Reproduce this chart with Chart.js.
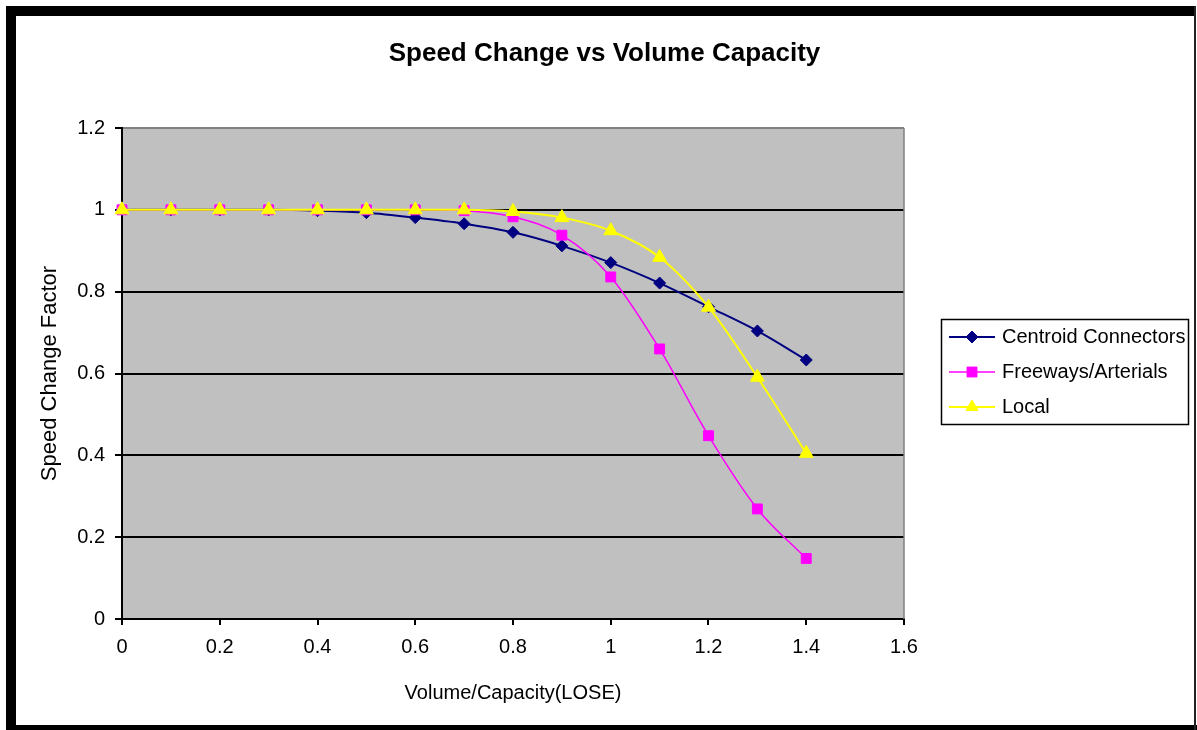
<!DOCTYPE html>
<html>
<head>
<meta charset="utf-8">
<script src="https://cdn.jsdelivr.net/npm/chart.js@4/dist/chart.umd.min.js"></script>
<style>
html,body{margin:0;padding:0;background:#fff;overflow:hidden}
canvas{display:block}
</style>
</head>
<body>
<canvas id="c" width="1197" height="730"></canvas>
<script>
// ---------- data ----------
const chartTitle = 'Speed Change vs Volume Capacity';
const xAxisTitle = 'Volume/Capacity(LOSE)';
const yAxisTitle = 'Speed Change Factor';
const seriesNames = ['Centroid Connectors', 'Freeways/Arterials', 'Local'];
const volumeCapacity = [0, 0.1, 0.2, 0.3, 0.4, 0.5, 0.6, 0.7, 0.8, 0.9, 1.0, 1.1, 1.2, 1.3, 1.4];
const centroidConnectors = [1, 1, 1, 1, 0.998, 0.993, 0.981, 0.966, 0.945, 0.912, 0.871, 0.821, 0.763, 0.704, 0.633];
const freewaysArterials = [1, 1, 1, 1, 1, 1, 1, 0.998, 0.983, 0.938, 0.836, 0.66, 0.448, 0.269, 0.148];
const localRoads = [1, 1, 1, 1, 1, 1, 1, 1, 0.996, 0.981, 0.949, 0.884, 0.762, 0.591, 0.405];
const xTickLabels = ['0', '0.2', '0.4', '0.6', '0.8', '1', '1.2', '1.4', '1.6'];
const yTickLabels = ['0', '0.2', '0.4', '0.6', '0.8', '1', '1.2'];

// ---------- styles ----------
const FONT = '"Liberation Sans", Arial, sans-serif';
const seriesColors = ['#000080', '#FF00FF', '#FFFF00'];
const seriesPointStyles = ['rectRot', 'rect', 'triangle'];
const seriesPointRadius = [6, 7, 8];
const seriesLineWidth = [2, 1.5, 2];

function toPoints(ys) { return volumeCapacity.map((x, i) => ({ x: x, y: ys[i] })); }
const seriesData = [centroidConnectors, freewaysArterials, localRoads];

function drawMarker(ctx, style, cx, cy, r) {
  ctx.beginPath();
  if (style === 'rectRot') {
    ctx.moveTo(cx, cy - r); ctx.lineTo(cx + r, cy); ctx.lineTo(cx, cy + r); ctx.lineTo(cx - r, cy); ctx.closePath();
  } else if (style === 'rect') {
    const s = r * Math.SQRT1_2; ctx.rect(cx - s, cy - s, 2 * s, 2 * s);
  } else {
    ctx.moveTo(cx, cy - r); ctx.lineTo(cx + r * 0.866, cy + r / 2); ctx.lineTo(cx - r * 0.866, cy + r / 2); ctx.closePath();
  }
  ctx.fill(); ctx.stroke();
}

function makeLegendImage(i) {
  const cv = document.createElement('canvas');
  cv.width = 46; cv.height = 20;
  const c = cv.getContext('2d');
  c.strokeStyle = seriesColors[i]; c.fillStyle = seriesColors[i];
  c.lineWidth = seriesLineWidth[i];
  c.beginPath(); c.moveTo(0, 10); c.lineTo(46, 10); c.stroke();
  c.lineWidth = 1;
  drawMarker(c, seriesPointStyles[i], 23, 10, seriesPointStyles[i] === 'triangle' ? 7 : seriesPointRadius[i]);
  return cv;
}
const legendImages = [0, 1, 2].map(makeLegendImage);

const excelPlugin = {
  id: 'excelLook',
  afterLayout(chart) {
    const lg = chart.legend;
    if (lg) { lg.left = 937; lg.right = 1189; lg.top = 272; lg.bottom = 472; lg.width = 252; lg.height = 200; }
    const tb = chart.titleBlock;
    if (tb) { tb.left = 16; tb.right = 1193; tb.width = 1177; }
  },
  beforeDraw(chart) {
    const ctx = chart.ctx;
    const a = chart.chartArea;
    ctx.save();
    ctx.fillStyle = '#ffffff';
    ctx.fillRect(0, 0, chart.width, chart.height);
    ctx.fillStyle = '#000000';
    ctx.fillRect(6, 6, 10, 724);
    ctx.fillRect(6, 6, 1189, 10);
    ctx.fillRect(6, 725, 1191, 5);
    ctx.fillStyle = '#222222';
    ctx.fillRect(1194, 6, 2, 724);
    ctx.fillStyle = '#C0C0C0';
    ctx.fillRect(a.left, a.top, a.right - a.left, a.bottom - a.top);
    ctx.restore();
  },
  beforeDatasetsDraw(chart) {
    const ctx = chart.ctx;
    const a = chart.chartArea;
    ctx.save();
    ctx.strokeStyle = '#808080';
    ctx.lineWidth = 1.5;
    ctx.beginPath();
    ctx.moveTo(a.right, a.top); ctx.lineTo(a.right, a.bottom);
    ctx.stroke();
    ctx.restore();
  },
  afterDraw(chart) {
    const ctx = chart.ctx;
    ctx.save();
    ctx.strokeStyle = '#000000';
    ctx.lineWidth = 1.5;
    ctx.strokeRect(941.5, 319.5, 247, 105);
    ctx.restore();
  }
};

new Chart(document.getElementById('c'), {
  type: 'line',
  data: {
    datasets: seriesNames.map((name, i) => ({
      label: name,
      data: toPoints(seriesData[i]),
      borderColor: seriesColors[i],
      backgroundColor: seriesColors[i],
      borderWidth: seriesLineWidth[i],
      pointStyle: seriesPointStyles[i],
      pointRadius: seriesPointRadius[i],
      pointHoverRadius: seriesPointRadius[i],
      pointBorderWidth: 1,
      pointBorderColor: seriesColors[i],
      pointBackgroundColor: seriesColors[i],
      cubicInterpolationMode: 'monotone',
      fill: false,
      clip: false,
      order: 2 - i
    }))
  },
  options: {
    responsive: false,
    animation: false,
    devicePixelRatio: 1,
    layout: { padding: { left: 16, top: 16, right: 293, bottom: 5 } },
    plugins: {
      tooltip: { enabled: false },
      title: {
        display: true,
        text: chartTitle,
        color: '#000',
        font: { family: FONT, size: 26, weight: 'bold', lineHeight: 1.2 },
        padding: { top: 22, bottom: 58.8 }
      },
      legend: {
        display: true,
        position: 'chartArea',
        align: 'center',
        labels: {
          color: '#000',
          font: { family: FONT, size: 20 },
          usePointStyle: true,
          pointStyleWidth: 40,
          padding: 15,
          generateLabels(chart) {
            const items = Chart.defaults.plugins.legend.labels.generateLabels(chart);
            items.sort((a, b) => a.datasetIndex - b.datasetIndex);
            items.forEach(it => { it.pointStyle = legendImages[it.datasetIndex]; it.fontColor = '#000'; });
            return items;
          }
        }
      }
    },
    scales: {
      x: {
        type: 'linear',
        min: 0, max: 1.6,
        afterFit(scale) { scale.height = 106; },
        ticks: {
          stepSize: 0.2,
          color: '#000',
          padding: 10,
          font: { family: FONT, size: 20 },
          callback(value) { return xTickLabels[Math.round(value / 0.2)]; }
        },
        grid: { drawOnChartArea: false, drawTicks: true, tickLength: 6, tickColor: '#000', lineWidth: 2 },
        border: { display: true, color: '#000', width: 2 },
        title: {
          display: true, text: xAxisTitle, color: '#000',
          font: { family: FONT, size: 20 },
          padding: { top: 0, bottom: 20 }
        }
      },
      y: {
        type: 'linear',
        min: 0, max: 1.2,
        afterFit(scale) { scale.width = 106; },
        ticks: {
          stepSize: 0.2,
          color: '#000',
          padding: 10,
          font: { family: FONT, size: 20 },
          callback(value) { return yTickLabels[Math.round(value / 0.2)]; }
        },
        grid: {
          color: (ctx) => (ctx.tick && Math.abs(ctx.tick.value - 1.2) < 1e-6) ? '#808080' : '#000000',
          lineWidth: 2,
          tickLength: 7,
          tickColor: '#000'
        },
        border: { display: true, color: '#000', width: 2 },
        title: {
          display: true, text: yAxisTitle, color: '#000',
          font: { family: FONT, size: 22 },
          padding: { top: 21, bottom: 0 }
        }
      }
    }
  },
  plugins: [excelPlugin]
});
</script>
</body>
</html>
